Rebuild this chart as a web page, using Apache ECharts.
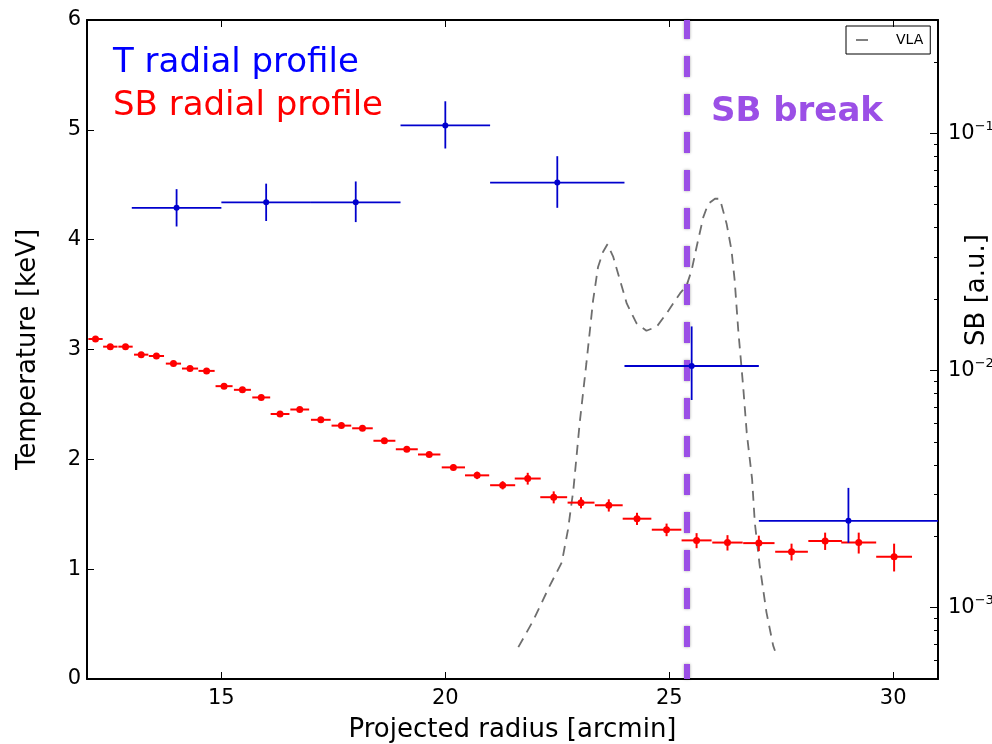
<!DOCTYPE html>
<html>
<head>
<meta charset="utf-8">
<script src="https://cdn.jsdelivr.net/npm/echarts@6/dist/echarts.min.js"></script>
<style>
html,body{margin:0;padding:0;background:#fff;}
#chart{width:992px;height:744px;}
</style>
</head>
<body>
<div id="chart"></div>
<script>
// ---------- data ----------
const xTicks = [15, 20, 25, 30];
const yTicks = [0, 1, 2, 3, 4, 5, 6];

// Temperature profile (left axis)
const tRadius   = [14, 16, 18, 20, 22.5, 25.5, 29];
const tRadiusLo = [1, 1, 1, 1, 1.5, 1.5, 2];
const tRadiusHi = [1, 1, 1, 1, 1.5, 1.5, 2];
const tTemp     = [4.29, 4.34, 4.34, 5.04, 4.52, 2.85, 1.44];
const tTempLo   = [0.17, 0.17, 0.18, 0.21, 0.23, 0.31, 0.20];
const tTempHi   = [0.17, 0.17, 0.19, 0.22, 0.24, 0.36, 0.30];

// Surface brightness profile (right log axis)
const sbRadius = [12.19, 12.52, 12.86, 13.21, 13.55, 13.93, 14.30, 14.67, 15.06, 15.47,
                  15.89, 16.31, 16.75, 17.22, 17.68, 18.15, 18.64, 19.14, 19.64, 20.18,
                  20.71, 21.28, 21.84, 22.42, 23.03, 23.65, 24.28, 24.94, 25.61, 26.30,
                  27.00, 27.73, 28.48, 29.23, 30.02];
const sbRadiusErr = [0.16, 0.16, 0.16, 0.16, 0.17, 0.17, 0.18, 0.18, 0.19, 0.19,
                     0.20, 0.21, 0.21, 0.22, 0.22, 0.23, 0.245, 0.245, 0.25, 0.26,
                     0.27, 0.28, 0.29, 0.30, 0.30, 0.31, 0.32, 0.33, 0.335, 0.34,
                     0.35, 0.365, 0.375, 0.39, 0.40];
const sbValue = [0.01356, 0.01259, 0.01259, 0.01165, 0.01150, 0.01068, 0.01018, 0.00995, 0.00858, 0.00828,
                 0.00769, 0.00655, 0.00684, 0.00619, 0.00585, 0.00570, 0.00505, 0.00465, 0.00442, 0.00390,
                 0.00361, 0.00328, 0.00350, 0.00292, 0.00277, 0.00270, 0.00237, 0.00213, 0.00192, 0.00188,
                 0.00187, 0.00172, 0.00191, 0.00188, 0.00164];
const sbErr = [0.0002, 0.00019, 0.00019, 0.00017, 0.00017, 0.00016, 0.00015, 0.00015, 0.00013, 0.00012,
               0.00012, 0.0001, 0.0001, 0.0001, 0.0001, 0.0001, 0.0001, 0.00009, 0.00009, 0.0001,
               0.00013, 0.00013, 0.0002, 0.00017, 0.00015, 0.00016, 0.00014, 0.00013, 0.00014, 0.00014,
               0.00014, 0.00014, 0.00016, 0.00019, 0.00022];

// VLA radio profile (right log axis)
const vlaRadius = [21.63, 21.96, 22.33, 22.60, 22.74, 22.86, 23.00, 23.15, 23.30, 23.41,
                   23.52, 23.62, 23.75, 23.90, 24.05, 24.27, 24.49, 24.72, 24.94, 25.24,
                   25.39, 25.50, 25.61, 25.76, 25.87, 26.02, 26.13, 26.28, 26.39, 26.46,
                   26.54, 26.65, 26.73, 26.85, 26.91, 27.02, 27.17, 27.32, 27.36];
const vlaSB = [0.000681, 0.00088, 0.001235, 0.001549, 0.002138, 0.003148, 0.0060, 0.01072, 0.01978, 0.02729,
               0.03155, 0.0340, 0.03008, 0.0240, 0.01916, 0.01579, 0.01469, 0.01528, 0.01739, 0.02111,
               0.02287, 0.02644, 0.03313, 0.04427, 0.05041, 0.05292, 0.05292, 0.04155, 0.03209, 0.0240,
               0.0148, 0.00855, 0.00545, 0.00347, 0.00228, 0.0015, 0.000955, 0.000691, 0.000658];

const sbBreak = 25.4;

const xRange = [12, 31];
const tRange = [0, 6];
const sbRange = [0.0005, 0.3];

// ---------- helpers ----------
const FONT = 'DejaVu Sans';
const minorLog = [];
for (let n = -4; n <= -1; n++) {
  for (let k = 2; k <= 9; k++) {
    const v = k * Math.pow(10, n);
    if (v > sbRange[0] && v < sbRange[1]) minorLog.push(Math.log10(v));
  }
}

function errRender(color, lw, r) {
  return function (params, api) {
    const x = api.value(0), y = api.value(1);
    const xl = api.value(2), xh = api.value(3), yl = api.value(4), yh = api.value(5);
    const c = api.coord([x, y]);
    const pl = api.coord([x - xl, y]), ph = api.coord([x + xh, y]);
    const pb = api.coord([x, y - yl]), pt = api.coord([x, y + yh]);
    return {
      type: 'group',
      children: [
        { type: 'line', shape: { x1: pl[0], y1: pl[1], x2: ph[0], y2: ph[1] }, style: { stroke: color, lineWidth: lw } },
        { type: 'line', shape: { x1: pb[0], y1: pb[1], x2: pt[0], y2: pt[1] }, style: { stroke: color, lineWidth: lw } },
        { type: 'circle', shape: { cx: c[0], cy: c[1], r: r }, style: { fill: color } }
      ]
    };
  };
}

const tData = tRadius.map((x, i) => [x, tTemp[i], tRadiusLo[i], tRadiusHi[i], tTempLo[i], tTempHi[i]]);
const sbData = sbRadius.map((x, i) => [x, sbValue[i], sbRadiusErr[i], sbRadiusErr[i], sbErr[i], sbErr[i]]);
const vlaData = vlaRadius.map((x, i) => [x, vlaSB[i]]);

const chart = echarts.init(document.getElementById('chart'), null, { renderer: 'canvas' });

const axisLineStyle = { color: '#000', width: 2 };

const option = {
  animation: false,
  backgroundColor: '#fff',
  textStyle: { fontFamily: FONT },
  grid: { left: 87, right: 54, top: 20, bottom: 65, containLabel: false, outerBoundsMode: 'none' },
  legend: {
    data: [{ name: 'VLA', icon: 'rect', itemStyle: { color: '#808080' } }],
    left: 846, top: 26,
    borderColor: '#000', borderWidth: 1, borderRadius: 0,
    padding: [7, 7, 7, 10],
    itemWidth: 12, itemHeight: 2,
    textStyle: { fontFamily: FONT, fontSize: 14, color: '#000', padding: [0, 0, 0, 23] }
  },
  xAxis: [
    {
      type: 'value', min: xRange[0], max: xRange[1], position: 'bottom',
      name: 'Projected radius [arcmin]', nameLocation: 'middle', nameGap: 38,
      nameTextStyle: { fontFamily: FONT, fontSize: 26, color: '#000' },
      axisLine: { onZero: false, lineStyle: axisLineStyle },
      axisTick: { inside: true, length: 7, customValues: xTicks, lineStyle: { color: '#000', width: 1 } },
      axisLabel: { customValues: xTicks, margin: 9, fontFamily: FONT, fontSize: 21, color: '#000' },
      splitLine: { show: false }
    },
    {
      type: 'value', min: xRange[0], max: xRange[1], position: 'top',
      axisLine: { onZero: false, lineStyle: axisLineStyle },
      axisTick: { inside: true, length: 7, customValues: xTicks, lineStyle: { color: '#000', width: 1 } },
      axisLabel: { show: false },
      splitLine: { show: false }
    }
  ],
  yAxis: [
    {
      type: 'value', min: tRange[0], max: tRange[1], interval: 1, position: 'left',
      name: 'Temperature [keV]', nameLocation: 'middle', nameGap: 46, nameRotate: 90,
      nameTextStyle: { fontFamily: FONT, fontSize: 26, color: '#000' },
      axisLine: { onZero: false, lineStyle: axisLineStyle },
      axisTick: { inside: true, length: 7, lineStyle: { color: '#000', width: 1 } },
      axisLabel: { margin: 6, fontFamily: FONT, fontSize: 21, color: '#000' },
      splitLine: { show: false }
    },
    {
      type: 'log', min: sbRange[0], max: sbRange[1], position: 'right',
      axisLine: { onZero: false, lineStyle: axisLineStyle },
      axisTick: { inside: true, length: 8, lineStyle: { color: '#000', width: 1 } },
      axisLabel: {
        margin: 10, showMinLabel: false, showMaxLabel: false,
        formatter: function (v) {
          const e = Math.round(Math.log10(v));
          return '{b|10}{s|' + (e < 0 ? '\u2212' : '') + Math.abs(e) + '}';
        },
        rich: {
          b: { fontFamily: FONT, fontSize: 21, color: '#000' },
          s: { fontFamily: FONT, fontSize: 13, color: '#000', padding: [0, 0, 14, 0] }
        }
      },
      splitLine: { show: false }
    },
    {
      type: 'value', min: Math.log10(sbRange[0]), max: Math.log10(sbRange[1]), position: 'right',
      axisLine: { show: false },
      axisTick: { inside: true, length: 4, customValues: minorLog, lineStyle: { color: '#000', width: 1 } },
      axisLabel: { show: false },
      splitLine: { show: false }
    }
  ],
  graphic: [
    { type: 'text', x: 113, y: 63, style: { text: 'T radial profile', font: '34px "DejaVu Sans"', fill: '#0000ff', verticalAlign: 'middle' } },
    { type: 'text', x: 113, y: 106, style: { text: 'SB radial profile', font: '34px "DejaVu Sans"', fill: '#ff0000', verticalAlign: 'middle' } },
    { type: 'text', x: 711, y: 112, style: { text: 'SB break', font: 'bold 34px "DejaVu Sans"', fill: '#9B4FE6', verticalAlign: 'middle' } },
    { type: 'text', x: 977, y: 290, rotation: Math.PI / 2, style: { text: 'SB [a.u.]', font: '26px "DejaVu Sans"', fill: '#000', align: 'center', verticalAlign: 'middle' } }
  ],
  series: [
    {
      name: 'VLA', type: 'line', xAxisIndex: 0, yAxisIndex: 1, data: vlaData,
      showSymbol: false, symbol: 'none', smooth: false,
      lineStyle: { color: '#6e6e6e', width: 1.8, type: [10, 7] },
      itemStyle: { color: '#808080' },
      z: 3
    },
    {
      name: 'SB', type: 'custom', xAxisIndex: 0, yAxisIndex: 1, data: sbData,
      encode: { x: 0, y: 1 }, renderItem: errRender('#ff0000', 2, 3.5), clip: true, z: 4
    },
    {
      name: 'T', type: 'custom', xAxisIndex: 0, yAxisIndex: 0, data: tData,
      encode: { x: 0, y: 1 }, renderItem: errRender('#0000cd', 1.8, 3), clip: true, z: 5,
      markLine: {
        silent: true, symbol: ['none', 'none'], label: { show: false },
        lineStyle: { color: '#9B4FE6', width: 6, type: [21, 17], dashOffset: 6, shadowBlur: 3, shadowColor: 'rgba(0,0,0,0.35)' },
        data: [{ xAxis: sbBreak }]
      }
    }
  ]
};
chart.setOption(option);
</script>
</body>
</html>
